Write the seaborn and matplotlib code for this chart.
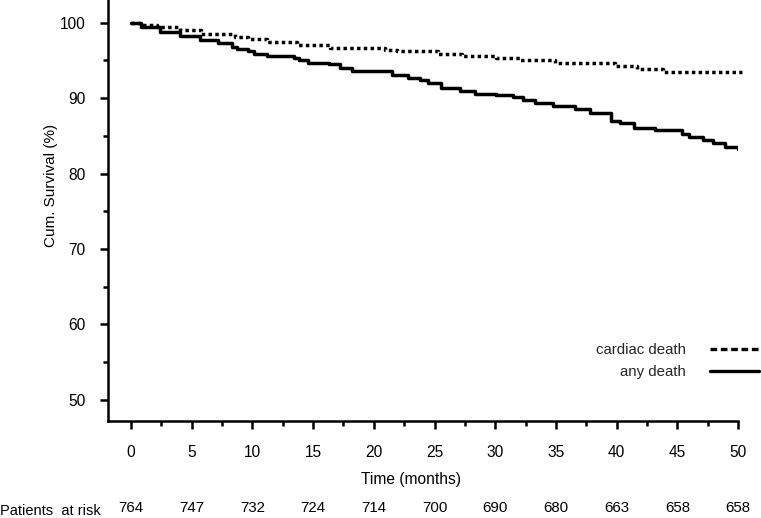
import matplotlib
matplotlib.use("Agg")
import matplotlib.pyplot as plt
import matplotlib.transforms as mtransforms
from matplotlib.lines import Line2D
from matplotlib.ticker import MultipleLocator
import seaborn as sns

# Kaplan-Meier step points (month, cumulative survival %)
any_months = [0, 0.8, 2.4, 4.0, 5.7, 7.2, 8.3, 8.7, 9.6, 10.1, 11.2, 13.4, 13.8, 14.6, 16.3,
              17.2, 18.2, 21.5, 22.8, 23.8, 24.5, 25.5, 27.1, 28.3, 30.1, 31.5, 32.3, 33.3,
              34.8, 36.6, 37.8, 39.5, 40.3, 41.4, 43.2, 45.4, 46.0, 47.1, 47.9, 48.9, 50.0]
any_surv = [100, 99.4, 98.8, 98.2, 97.7, 97.3, 96.8, 96.5, 96.2, 95.9, 95.6, 95.3, 95.0, 94.7,
            94.5, 94.0, 93.6, 93.1, 92.7, 92.4, 92.0, 91.4, 90.9, 90.6, 90.4, 90.1, 89.7, 89.4,
            89.0, 88.5, 88.0, 87.0, 86.7, 86.0, 85.8, 85.3, 84.9, 84.4, 84.0, 83.5, 83.2]

cardiac_months = [0, 0.7, 2.1, 4.0, 5.8, 8.6, 9.6, 11.2, 13.7, 16.4, 20.9, 21.9, 25.3, 27.3,
                  30.1, 32.0, 34.9, 39.9, 41.7, 43.8, 50.3]
cardiac_surv = [100, 99.7, 99.4, 99.0, 98.5, 98.1, 97.8, 97.4, 97.0, 96.7, 96.4, 96.2, 95.8,
                95.6, 95.3, 95.1, 94.6, 94.2, 93.8, 93.5, 93.5]

# patients at risk table
risk_months = [0, 5, 10, 15, 20, 25, 30, 35, 40, 45, 50]
risk_counts = [764, 747, 732, 724, 714, 700, 690, 680, 663, 658, 658]

sns.set_theme(style="ticks")
plt.rcParams["font.family"] = ["Liberation Sans", "DejaVu Sans"]

fig = plt.figure(figsize=(7.61, 5.18), dpi=100)
ax = fig.add_axes([108 / 761, 1 - 421 / 518, 630 / 761, 421 / 518])

sns.lineplot(x=any_months, y=any_surv, drawstyle="steps-post", color="black",
             linewidth=2.5, ax=ax)
sns.lineplot(x=cardiac_months, y=cardiac_surv, drawstyle="steps-post", color="black",
             linewidth=2.5, linestyle=(0, (1, 0.95)), clip_on=False, ax=ax)

ax.set_xlim(-1.9, 50)
ax.set_ylim(47.2, 103.0)
ax.xaxis.set_major_locator(MultipleLocator(5))
ax.xaxis.set_minor_locator(MultipleLocator(2.5))
ax.yaxis.set_major_locator(MultipleLocator(10))
ax.yaxis.set_minor_locator(MultipleLocator(5))
ax.set_yticks([50, 60, 70, 80, 90, 100])

ax.tick_params(which="major", length=6, width=1.8, color="black", labelsize=11.2,
               labelcolor="black")
ax.tick_params(axis="x", which="major", pad=11)
ax.tick_params(axis="y", which="major", pad=10)
ax.tick_params(which="minor", length=3.5, width=1.8, color="black")
for side in ["left", "bottom"]:
    ax.spines[side].set_linewidth(1.8)
    ax.spines[side].set_color("black")
sns.despine(ax=ax)

ax.set_xlabel("Time (months)", fontsize=11.2, color="black")
ax.set_ylabel("Cum. Survival (%)", fontsize=11, color="black")
ax.xaxis.set_label_coords(0.481, -0.122)
ax.yaxis.set_label_coords(-0.079, 0.56)

handles = [Line2D([], [], color="black", linewidth=2.4, linestyle=(0, (2.0, 1.1))),
           Line2D([], [], color="black", linewidth=2.4)]
ax.legend(handles, ["cardiac death", "any death"], markerfirst=False, frameon=False,
          loc="center right", bbox_to_anchor=(0.998, 0.303), bbox_transform=fig.transFigure,
          fontsize=10.8, handlelength=3.3, handletextpad=1.6, labelspacing=0.5,
          borderpad=0, borderaxespad=0)

# numbers at risk under the axis
trans = mtransforms.blended_transform_factory(ax.transData, fig.transFigure)
for m, n in zip(risk_months, risk_counts):
    ax.text(m, 0.02, str(n), transform=trans, ha="center", va="center", fontsize=10.8,
            color="black")
fig.text(0.0, 0.013, "Patients  at risk", ha="left", va="center", fontsize=10.5,
         color="black")

fig.savefig("out.png", dpi=100)
